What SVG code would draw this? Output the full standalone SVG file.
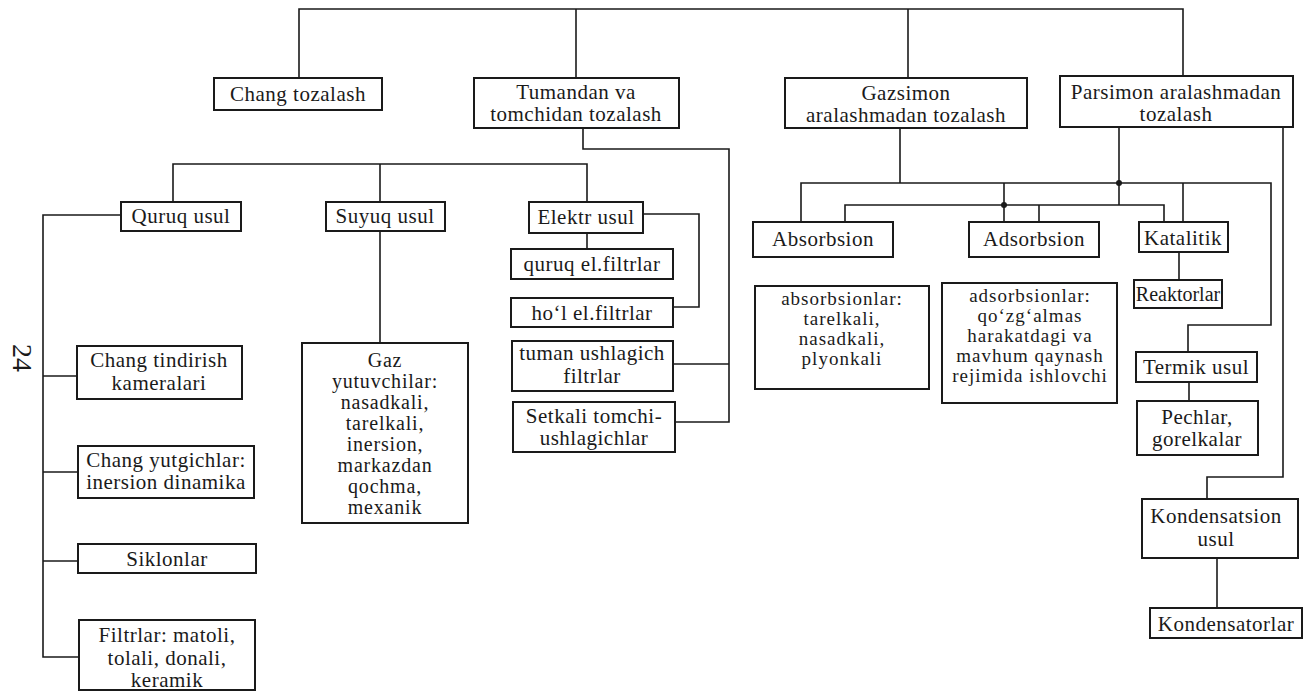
<svg xmlns="http://www.w3.org/2000/svg" width="1304" height="691" viewBox="0 0 1304 691">
<style>
.box{fill:#fff;stroke:#1a1a1a;stroke-width:2}
.ln{fill:none;stroke:#1a1a1a;stroke-width:1.6}
.dot{fill:#1a1a1a}
text{font-family:"Liberation Serif","Times New Roman",serif;font-size:21px;fill:#1a1a1a;text-anchor:middle;letter-spacing:0.5px}
.g20{font-size:20px;letter-spacing:0.8px}
.s19{font-size:19px;letter-spacing:1px}
.sm{font-size:20px;letter-spacing:0}
.pg{font-size:28px;letter-spacing:0}
</style>
<rect width="1304" height="691" fill="#fff"/>
<g id="connectors">
<path class="ln" d="M299,78 V9 H1183 V76"/>
<path class="ln" d="M576,9 V78"/>
<path class="ln" d="M908,9 V78"/>
<path class="ln" d="M583,128 V149 H729 V422 H675"/>
<path class="ln" d="M729,364 H673"/>
<path class="ln" d="M173,202 V164 H587 V202"/>
<path class="ln" d="M380,164 V202"/>
<path class="ln" d="M380,231 V343"/>
<path class="ln" d="M121,215 H43 V657 H79"/>
<path class="ln" d="M43,376 H77"/>
<path class="ln" d="M43,472 H78"/>
<path class="ln" d="M43,561 H78"/>
<path class="ln" d="M587,233 V249"/>
<path class="ln" d="M643,214 H699 V307 H673"/>
<path class="ln" d="M900,128 V183"/>
<path class="ln" d="M801,222 V183 H1271 V325 H1188 V352"/>
<path class="ln" d="M1004,183 V222"/>
<path class="ln" d="M1183,183 V222"/>
<path class="ln" d="M1119,127 V205"/>
<path class="ln" d="M845,222 V205 H1164 V222"/>
<path class="ln" d="M1039,205 V222"/>
<path class="ln" d="M1283,127 V477 H1207 V499"/>
<path class="ln" d="M1179,252 V280"/>
<path class="ln" d="M1189,382 V401"/>
<path class="ln" d="M1217,558 V608"/>
<circle class="dot" cx="1119" cy="183" r="3"/>
<circle class="dot" cx="1004" cy="205" r="3"/>
</g>
<g id="n-chang-tozalash"><rect class="box" x="214" y="78" width="168" height="32"/><text x="298" y="101">Chang tozalash</text></g>
<g id="n-tumandan"><rect class="box" x="474" y="78" width="205" height="50"/><text x="576" y="99">Tumandan va</text><text x="576" y="121">tomchidan tozalash</text></g>
<g id="n-gazsimon"><rect class="box" x="785" y="78" width="242" height="50"/><text x="906" y="100">Gazsimon</text><text x="906" y="122">aralashmadan tozalash</text></g>
<g id="n-parsimon"><rect class="box" x="1060" y="76" width="233" height="51"/><text x="1176" y="99">Parsimon aralashmadan</text><text x="1176" y="121">tozalash</text></g>
<g id="n-quruq"><rect class="box" x="121" y="202" width="120" height="29"/><text x="181" y="223">Quruq usul</text></g>
<g id="n-suyuq"><rect class="box" x="326" y="202" width="119" height="29"/><text x="385" y="223">Suyuq usul</text></g>
<g id="n-elektr"><rect class="box" x="529" y="202" width="114" height="31"/><text x="586" y="224">Elektr  usul</text></g>
<g id="n-quruq-el"><rect class="box" x="511" y="249" width="162" height="30"/><text x="592" y="271">quruq el.filtrlar</text></g>
<g id="n-hol-el"><rect class="box" x="511" y="298" width="162" height="29"/><text x="592" y="320">ho‘l el.filtrlar</text></g>
<g id="n-tuman"><rect class="box" x="512" y="341" width="161" height="50"/><text x="592" y="360">tuman  ushlagich</text><text x="592" y="383">filtrlar</text></g>
<g id="n-setkali"><rect class="box" x="513" y="402" width="162" height="50"/><text x="594" y="423">Setkali tomchi-</text><text x="594" y="445">ushlagichlar</text></g>
<g id="n-chang-tindirish"><rect class="box" x="77" y="346" width="165" height="53"/><text x="159" y="367">Chang tindirish</text><text x="159" y="390">kameralari</text></g>
<g id="n-chang-yutgich"><rect class="box" x="78" y="446" width="176" height="52"/><text x="166" y="467">Chang yutgichlar:</text><text x="166" y="489">inersion  dinamika</text></g>
<g id="n-siklon"><rect class="box" x="78" y="544" width="178" height="29"/><text x="167" y="566">Siklonlar</text></g>
<g id="n-filtr"><rect class="box" x="79" y="620" width="176" height="70"/><text x="167" y="642">Filtrlar:  matoli,</text><text x="167" y="665">tolali,  donali,</text><text x="167" y="687">keramik</text></g>
<g id="n-gaz"><rect class="box" x="302" y="343" width="166" height="180"/>
<text class="g20" x="385" y="367">Gaz</text><text class="g20" x="385" y="388">yutuvchilar:</text><text class="g20" x="385" y="409">nasadkali,</text><text class="g20" x="385" y="430">tarelkali,</text><text class="g20" x="385" y="451">inersion,</text><text class="g20" x="385" y="472">markazdan</text><text class="g20" x="385" y="493">qochma,</text><text class="g20" x="385" y="514">mexanik</text></g>
<g id="n-absorbsion"><rect class="box" x="753" y="222" width="140" height="35"/><text x="823" y="246">Absorbsion</text></g>
<g id="n-adsorbsion"><rect class="box" x="969" y="222" width="130" height="35"/><text x="1034" y="246">Adsorbsion</text></g>
<g id="n-katalitik"><rect class="box" x="1139" y="222" width="89" height="30"/><text x="1183" y="245">Katalitik</text></g>
<g id="n-absorbsionlar"><rect class="box" x="755" y="286" width="174" height="103"/><text class="s19" x="842" y="305">absorbsionlar:</text><text class="s19" x="842" y="325">tarelkali,</text><text class="s19" x="842" y="345">nasadkali,</text><text class="s19" x="842" y="365">plyonkali</text></g>
<g id="n-adsorbsionlar"><rect class="box" x="942" y="283" width="175" height="120"/><text class="s19" x="1030" y="302">adsorbsionlar:</text><text class="s19" x="1030" y="322">qo‘zg‘almas</text><text class="s19" x="1030" y="342">harakatdagi va</text><text class="s19" x="1030" y="362">mavhum  qaynash</text><text class="s19" x="1030" y="382">rejimida ishlovchi</text></g>
<g id="n-reaktorlar"><rect class="box" x="1134" y="280" width="88" height="28"/><text class="sm" x="1178" y="301">Reaktorlar</text></g>
<g id="n-termik"><rect class="box" x="1136" y="352" width="121" height="30"/><text x="1196" y="374">Termik usul</text></g>
<g id="n-pechlar"><rect class="box" x="1137" y="401" width="121" height="54"/><text x="1197" y="424">Pechlar,</text><text x="1197" y="446">gorelkalar</text></g>
<g id="n-kondensatsion"><rect class="box" x="1142" y="499" width="156" height="59"/><text x="1216" y="523">Kondensatsion</text><text x="1216" y="546">usul</text></g>
<g id="n-kondensatorlar"><rect class="box" x="1150" y="608" width="152" height="30"/><text x="1226" y="631">Kondensatorlar</text></g>
<text class="pg" transform="translate(13,358) rotate(90)">24</text>
</svg>
